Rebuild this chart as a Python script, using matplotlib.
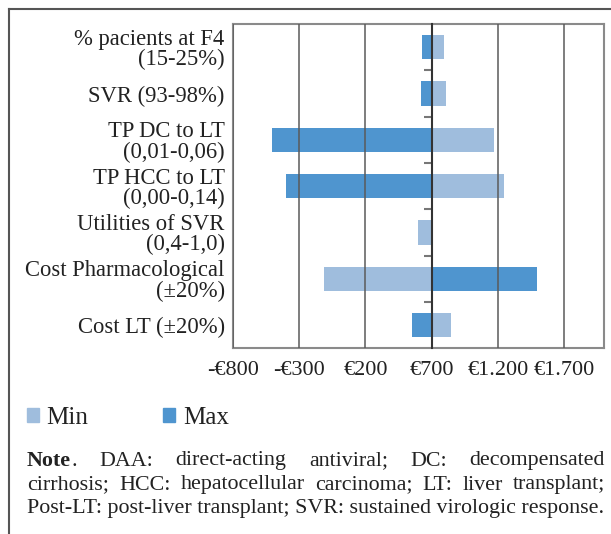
import matplotlib
matplotlib.use("Agg")
import matplotlib.pyplot as plt
import numpy as np
from matplotlib.lines import Line2D
from matplotlib.patches import Patch
from matplotlib.ticker import FuncFormatter

plt.rcParams["font.family"] = ["Liberation Serif", "DejaVu Serif"]

# tornado data (€), base case at 700
labels = [
    "% pacients at F4\n(15-25%)",
    "SVR (93-98%)",
    "TP DC to LT\n(0,01-0,06)",
    "TP HCC to LT\n(0,00-0,14)",
    "Utilities of SVR\n(0,4-1,0)",
    "Cost Pharmacological\n(±20%)",
    "Cost LT (±20%)",
]
base = 700
min_vals = [796, 811, 1175, 1250, 597, -109, 846]
max_vals = [625, 617, -504, -398, 700, 1494, 549]
xticks = [-800, -300, 200, 700, 1200, 1700]

note_lines = [
    [[("Note", "bold"), (".", "normal")], "DAA:", "direct-acting", "antiviral;", "DC:", "decompensated"],
    ["cirrhosis;", "HCC:", "hepatocellular", "carcinoma;", "LT:", "liver", "transplant;"],
    "Post-LT: post-liver transplant; SVR: sustained virologic response.",
]

c_min = "#9fbddd"
c_max = "#4f95cf"
W, H = 611, 534

fig = plt.figure(figsize=(W / 100, H / 100), dpi=100)
ax = fig.add_axes([233 / W, 1 - 348.3 / H, 370.7 / W, 324.3 / H])

y = np.arange(len(labels))
min_arr = np.array(min_vals)
max_arr = np.array(max_vals)
ax.barh(y, min_arr - base, left=base, height=0.53, color=c_min, zorder=1)
ax.barh(y, max_arr - base, left=base, height=0.53, color=c_max, zorder=1)

ax.set_xlim(-800, 2000)
ax.set_ylim(len(labels) - 0.5, -0.5)
ax.set_xticks(xticks)
ax.xaxis.set_major_formatter(
    FuncFormatter(lambda v, p: ("-" if v < 0 else "") + "€" + f"{abs(int(v)):,}".replace(",", "."))
)
ax.set_yticks(y)
ax.set_yticklabels(labels, fontsize=16.3, linespacing=0.95, color="#222222")
ax.tick_params(axis="y", length=0, pad=6)
ax.tick_params(axis="x", length=0, pad=9, labelsize=16, labelcolor="#222222")
ax.grid(axis="x", color="#5a5a5a", lw=1.1)
ax.set_axisbelow(False)
for s in ax.spines.values():
    s.set_color("#8a8a8a")
    s.set_linewidth(1.5)

# category axis sits at the base value
ax2 = ax.twinx()
ax2.set_ylim(ax.get_ylim())
ax2.spines["right"].set_position(("data", base))
for k in ["top", "left", "bottom"]:
    ax2.spines[k].set_visible(False)
ax2.spines["right"].set_color("#333333")
ax2.spines["right"].set_linewidth(1.5)
ax2.set_yticks(np.arange(len(labels) - 1) + 0.5)
ax2.set_yticklabels([])
ax2.tick_params(axis="y", direction="in", length=6, width=1.5, color="#777777")

# outer frame
fig.add_artist(Line2D([9 / W, 9 / W], [0, 1 - 9 / H], color="#555555", lw=1.5, transform=fig.transFigure))
fig.add_artist(Line2D([9 / W, 1], [1 - 9 / H, 1 - 9 / H], color="#555555", lw=1.5, transform=fig.transFigure))

handles = [Patch(color=c_min, label="Min"), Patch(color=c_max, label="Max")]
fig.legend(handles=handles, loc="center left", bbox_to_anchor=(27 / W, 1 - 418 / H), ncol=2,
           frameon=False, fontsize=18, handlelength=0.48, handleheight=0.48,
           handletextpad=0.3, columnspacing=3.0, borderpad=0, borderaxespad=0,
           labelcolor="#222222")

# justified note
renderer = fig.canvas.get_renderer()
x_left, x_right = 27, 605
probe = fig.text(0, 0, note_lines[2], fontsize=10)
wid = probe.get_window_extent(renderer).width
probe.remove()
note_size = 10 * (x_right - x_left) / wid
line_y = [461, 485, 509]


def piece_list(word):
    if isinstance(word, str):
        return [(word, "normal")]
    return word


for li, line in enumerate(note_lines):
    yy = 1 - line_y[li] / H
    if isinstance(line, str):
        fig.text(x_left / W, yy, line, fontsize=note_size, va="center", color="#222222")
        continue
    words = []
    for w in line:
        arts = []
        for txt, wt in piece_list(w):
            t = fig.text(0, yy, txt, fontsize=note_size, fontweight=wt, va="center", color="#222222")
            arts.append((t, t.get_window_extent(renderer).width))
        words.append(arts)
    total = sum(sum(a[1] for a in w) for w in words)
    gap = (x_right - x_left - total) / (len(words) - 1)
    xpos = x_left
    for w in words:
        for t, wd in w:
            t.set_x(xpos / W)
            xpos += wd
        xpos += gap

fig.savefig("out.png", dpi=100)
